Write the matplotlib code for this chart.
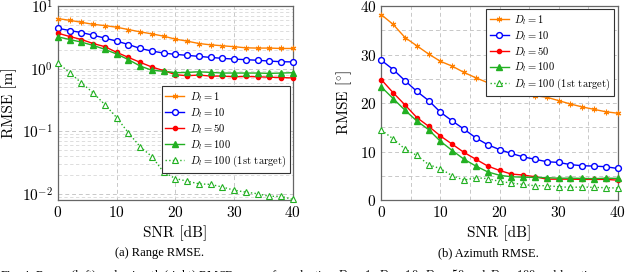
"""
Range and azimuth RMSE vs. SNR for different D_l values.
"""
import numpy as np
import matplotlib.pyplot as plt
from matplotlib.ticker import MultipleLocator, LogLocator, NullFormatter

plt.rcParams['font.family'] = ['cmr10', 'DejaVu Serif']
plt.rcParams['mathtext.fontset'] = 'cm'
plt.rcParams['axes.formatter.use_mathtext'] = True
plt.rcParams['axes.unicode_minus'] = False

#%% data
snr = [0, 2, 4, 6, 8, 10, 12, 14, 16, 18, 20, 22, 24, 26, 28, 30, 32, 34, 36, 38, 40]
labels = ['$D_l = 1$', '$D_l = 10$', '$D_l = 50$', '$D_l = 100$', '$D_l = 100$ (1st target)']

range_d1 = [6.3, 5.92, 5.5, 5.1, 4.87, 4.59, 4.21, 3.87, 3.59, 3.3, 2.96,
            2.75, 2.52, 2.40, 2.32, 2.24, 2.15, 2.13, 2.13, 2.1, 2.1]
range_d10 = [4.42, 4.06, 3.77, 3.42, 3.07, 2.75, 2.43, 2.10, 1.91, 1.77, 1.69,
             1.63, 1.57, 1.51, 1.46, 1.42, 1.39, 1.36, 1.32, 1.29, 1.28]
range_d50 = [3.68, 3.26, 2.92, 2.52, 2.24, 1.82, 1.51, 1.26, 1.06, 0.93, 0.80,
             0.77, 0.79, 0.76, 0.76, 0.74, 0.75, 0.74, 0.73, 0.72, 0.71]
range_d100 = [3.22, 2.92, 2.65, 2.35, 2.03, 1.71, 1.39, 1.10, 0.94, 0.91, 0.86,
              0.87, 0.89, 0.87, 0.85, 0.85, 0.85, 0.85, 0.84, 0.85, 0.86]
range_d100_1st = [1.23, 0.86, 0.59, 0.41, 0.265, 0.165, 0.094, 0.0564, 0.0392, 0.0221, 0.0175,
                  0.0159, 0.0144, 0.0141, 0.0128, 0.0114, 0.0106, 0.0100, 0.0091, 0.0091, 0.0081]

az_d1 = [38.2, 36.2, 33.5, 31.8, 30.1, 28.6, 27.6, 26.3, 25.2, 24.2, 23.5,
         22.6, 22.0, 21.5, 21.2, 20.5, 19.8, 19.2, 18.7, 18.2, 17.9]
az_d10 = [28.8, 26.9, 24.6, 22.4, 20.5, 18.1, 16.3, 14.6, 12.8, 11.4, 10.4,
          9.6, 8.9, 8.4, 7.9, 7.75, 7.3, 7.07, 7.0, 6.86, 6.5]
az_d50 = [24.8, 22.1, 19.6, 17.0, 15.2, 13.2, 11.5, 9.8, 8.4, 7.0, 6.1,
          5.35, 5.15, 4.8, 4.3, 4.3, 4.3, 4.25, 4.25, 4.25, 4.1]
az_d100 = [23.3, 20.9, 18.5, 16.3, 14.5, 12.1, 10.2, 8.4, 7.0, 5.8, 5.1,
           4.8, 4.7, 4.67, 4.6, 4.5, 4.5, 4.46, 4.4, 4.5, 4.46]
az_d100_1st = [14.4, 12.6, 10.5, 9.2, 7.3, 6.45, 5.0, 4.1, 4.6, 4.4, 3.84,
               3.5, 3.2, 2.95, 2.95, 2.74, 2.6, 2.68, 2.6, 2.54, 2.47]

orange = '#ff8000'
green = '#22b022'
styles = [dict(color=orange, marker=(6, 2, 0), ms=4, mew=0.8, ls='-'),
          dict(color='blue', marker='o', ms=4.2, mfc='white', mew=1.0, ls='-'),
          dict(color='red', marker='o', ms=3.0, ls='-'),
          dict(color=green, marker='^', ms=3.8, ls='-'),
          dict(color=green, marker='^', ms=3.8, mfc='white', mew=0.8, ls=':')]


def setup_axes(ax):
    ax.set_xlim(0, 40)
    ax.xaxis.set_major_locator(MultipleLocator(10))
    ax.set_xlabel('SNR [dB]', fontsize=11)
    ax.tick_params(labelsize=11, direction='in', length=0, which='both')
    for sp in ax.spines.values():
        sp.set_color('#666666')
        sp.set_linewidth(0.9)


def add_legend(ax, **kw):
    leg = ax.legend(fontsize=7.6, fancybox=False, edgecolor='#333333', framealpha=1,
                    handlelength=1.8, handletextpad=0.5, borderpad=0.35,
                    labelspacing=0.2, borderaxespad=0.3, **kw)
    leg.get_frame().set_linewidth(0.8)
    return leg


fig = plt.figure(figsize=(6.4, 2.72), dpi=100)

#%% range panel (log scale)
ax1 = fig.add_axes([0.0906, 0.2647, 0.367, 0.713])
for vals, lab, st in zip([range_d1, range_d10, range_d50, range_d100, range_d100_1st], labels, styles):
    ax1.plot(snr, vals, label=lab, lw=1.0, clip_on=False, zorder=3, **st)
ax1.set_yscale('log')
ax1.set_ylim(10 ** -2.1, 10)
ax1.yaxis.set_major_locator(LogLocator(base=10, numticks=10))
ax1.yaxis.set_minor_locator(LogLocator(base=10, subs=np.arange(2, 10), numticks=20))
ax1.yaxis.set_minor_formatter(NullFormatter())
ax1.grid(True, which='major', ls=(0, (4, 3)), color='#c8c8c8', lw=0.7)
ax1.grid(True, which='minor', axis='y', ls=(0, (4, 3)), color='#d8d8d8', lw=0.6)
setup_axes(ax1)
ax1.set_ylabel('RMSE [m]', fontsize=11)
add_legend(ax1, loc='lower right', bbox_to_anchor=(1.0, 0.125))

#%% azimuth panel
ax2 = fig.add_axes([0.596, 0.2647, 0.369, 0.713])
for vals, lab, st in zip([az_d1, az_d10, az_d50, az_d100, az_d100_1st], labels, styles):
    ax2.plot(snr, vals, label=lab, lw=1.0, clip_on=False, zorder=3, **st)
ax2.set_ylim(0, 40)
ax2.yaxis.set_major_locator(MultipleLocator(10))
ax2.xaxis.set_minor_locator(MultipleLocator(5))
ax2.yaxis.set_minor_locator(MultipleLocator(5))
ax2.grid(True, which='both', ls=(0, (4, 3)), color='#c8c8c8', lw=0.7)
setup_axes(ax2)
ax2.set_ylabel(r'RMSE [$^{\circ}$]', fontsize=11)
add_legend(ax2, loc='upper right')

#%% captions
fig.text(0.25, 0.07, '(a) Range RMSE.', ha='center', va='center', fontsize=9,
         family='Liberation Serif')
fig.text(0.763, 0.07, '(b) Azimuth RMSE.', ha='center', va='center', fontsize=9,
         family='Liberation Serif')
fig.text(0.0, -0.012, 'Fig. 4: Range (left) and azimuth (right) RMSE curves for selecting '
         '$D_l = 1$, $D_l = 10$, $D_l = 50$ and $D_l = 100$ and locations',
         ha='left', va='center', fontsize=9, family='Liberation Serif')

fig.savefig('out.png', dpi=100)
